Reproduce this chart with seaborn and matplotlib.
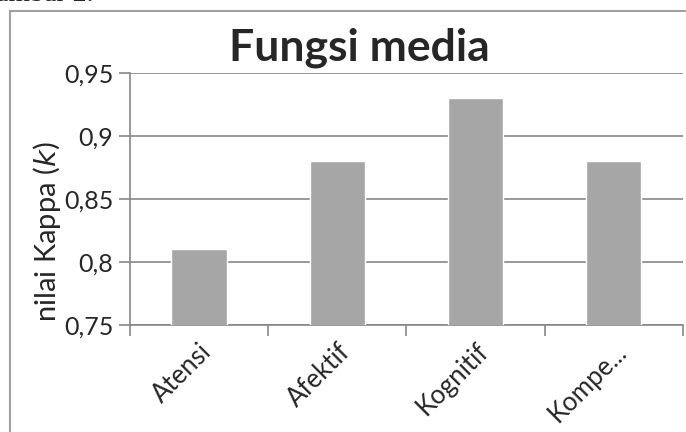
import matplotlib
matplotlib.use("Agg")
import matplotlib.pyplot as plt
import matplotlib.ticker as mticker
import seaborn as sns
import pandas as pd

categories = ["Atensi", "Afektif", "Kognitif", "Kompe..."]
kappa = [0.81, 0.88, 0.93, 0.88]
y_ticks = [0.75, 0.8, 0.85, 0.9, 0.95]

sns.set_style("white")
plt.rcParams["font.family"] = ["Lato", "DejaVu Sans"]

df = pd.DataFrame({"kategori": categories, "kappa": kappa})

fig = plt.figure(figsize=(6.86, 4.32), dpi=100)
ax = fig.add_axes([0.1895, 0.2477, 0.806, 0.5833])

# outer chart frame (Excel-style)
frame = plt.Rectangle((10 / 686, -0.1), 1.0, 1 - 11 / 432 + 0.1,
                      transform=fig.transFigure, fill=False,
                      edgecolor="#a0a0a0", linewidth=1.5, zorder=0)
fig.patches.append(frame)
fig.text(-0.035, 1.012, "Gambar 2.", family="Liberation Serif", fontsize=20,
         va="center", ha="left")

sns.barplot(data=df, x="kategori", y="kappa", color="#a6a6a6",
            saturation=1, width=0.4, ax=ax, zorder=3)

ax.set_ylim(0.75, 0.95)
ax.set_yticks(y_ticks)
ax.yaxis.set_major_formatter(mticker.FuncFormatter(
    lambda v, p: f"{v:g}".replace(".", ",")))
ax.grid(axis="y", color="#878787", linewidth=1.2, zorder=0)
ax.set_axisbelow(True)

ax.set_xlim(-0.5, len(categories) - 0.5)
ax.set_xticks([i - 0.5 for i in range(len(categories) + 1)], minor=False)
ax.set_xticklabels([])
ax.set_xticks(range(len(categories)), minor=True)
ax.set_xticklabels(categories, minor=True, rotation=45, ha="right",
                   rotation_mode="anchor", fontsize=18.5)
ax.tick_params(axis="x", which="minor", length=0, pad=10)
ax.tick_params(axis="x", which="major", direction="out", length=8,
               width=1.2, color="#878787", bottom=True)
ax.tick_params(axis="y", direction="out", length=8, width=1.2,
               color="#878787", labelsize=18, left=True, pad=4)

for s in ["top", "right"]:
    ax.spines[s].set_visible(False)
for s in ["left", "bottom"]:
    ax.spines[s].set_color("#878787")
    ax.spines[s].set_linewidth(1.2)

ax.set_xlabel("")
ax.set_ylabel("nilai Kappa ($\\mathit{k}$)", fontsize=21)
ax.yaxis.set_label_coords(-0.122, 0.37)
fig.text(359 / 686, 1 - 48 / 432, "Fungsi media", fontsize=32,
         fontweight="bold", ha="center", va="center")

fig.savefig("out.png", dpi=100)
